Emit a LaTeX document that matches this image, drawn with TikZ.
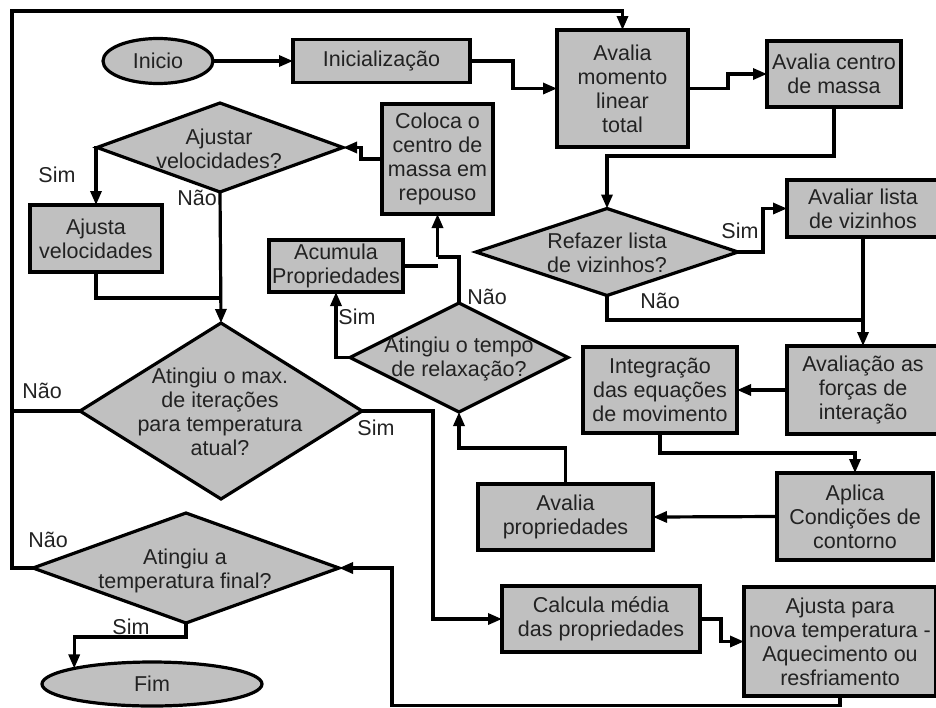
\documentclass[tikz,border=0pt]{standalone}
\usepackage{fontspec}
\setmainfont{Liberation Sans}
\usetikzlibrary{arrows.meta,shapes.geometric}
\definecolor{boxfill}{RGB}{192,192,192}
\definecolor{ink}{RGB}{34,34,34}
\begin{document}
\begin{tikzpicture}[x=1pt,y=-1pt,
  font=\fontsize{21.5}{24}\selectfont,
  base/.style={draw=black, fill=boxfill, line width=3.2pt, outer sep=0pt, inner sep=0pt, text=ink, align=center},
  proc/.style={base, rectangle},
  term/.style={base, ellipse},
  decision/.style={base, diamond},
  dtext/.style={text=ink, align=center, inner sep=0pt},
  lbl/.style={text=ink, inner sep=0pt},
  conn/.style={line width=3.2pt, draw=black},
  flow/.style={conn, -{Triangle[length=14pt,width=11pt]}}]

\useasboundingbox (0,0) rectangle (936,707);
\clip (0,0) rectangle (936,707);

% ---- nodes ----
\node[term, minimum width=110pt, minimum height=45pt] (inicio) at (158,61) {Inicio};
\node[proc, minimum width=177pt, minimum height=43pt] (inic) at (381.5,61) {Inicialização};
\node[proc, minimum width=131pt, minimum height=117pt] (momento) at (622.5,88.5) {Avalia\\momento\\linear\\total};
\node[proc, minimum width=134pt, minimum height=66pt] (centro) at (834,74) {Avalia centro\\de massa};
\node[decision, minimum width=262pt, minimum height=87pt] (refazer) at (607,252) {};
\node[dtext] (refazer-t) at (607,253) {Refazer lista\\de vizinhos?};
\node[proc, minimum width=152pt, minimum height=57pt] (vizinhos) at (863,208.5) {Avaliar lista\\de vizinhos};
\node[proc, minimum width=152pt, minimum height=88pt] (forcas) at (863,390) {Avaliação as\\forças de\\interação};
\node[proc, minimum width=154pt, minimum height=86pt] (integ) at (660,390) {Integração\\das equações\\de movimento};
\node[proc, minimum width=156pt, minimum height=87pt] (aplica) at (855,516.5) {Aplica\\Condições de\\contorno};
\node[proc, minimum width=175pt, minimum height=66pt] (avprop) at (565.5,517) {Avalia\\propriedades};
\node[decision, minimum width=218pt, minimum height=109pt] (tempo) at (459,357.5) {};
\node[dtext] (tempo-t) at (459,359) {Atingiu o tempo\\de relaxação?};
\node[proc, minimum width=134pt, minimum height=52pt] (acumula) at (336,266) {Acumula\\Propriedades};
\node[proc, minimum width=111pt, minimum height=110pt] (coloca) at (437.5,159) {Coloca o\\centro de\\massa em\\repouso};
\node[decision, minimum width=246pt, minimum height=89pt] (ajustar) at (220,147.5) {};
\node[dtext] (ajustar-t) at (219,149) {Ajustar\\velocidades?};
\node[proc, minimum width=132pt, minimum height=67pt] (ajvel) at (96,238.5) {Ajusta\\velocidades};
\node[decision, minimum width=282pt, minimum height=176pt] (maxit) at (221,411) {};
\node[dtext] (maxit-t) at (220,412) {Atingiu o max.\\de iterações\\para temperatura\\atual?};
\node[proc, minimum width=198pt, minimum height=66pt] (calcula) at (601,619) {Calcula média\\das propriedades};
\node[proc, minimum width=192pt, minimum height=109pt] (novat) at (840,641.5) {Ajusta para\\nova temperatura -\\Aquecimento ou\\resfriamento};
\node[decision, minimum width=306pt, minimum height=110pt] (tfinal) at (186,568) {};
\node[dtext] (tfinal-t) at (185,571) {Atingiu a\\temperatura final?};
\node[term, minimum width=220pt, minimum height=44pt] (fim) at (152,684) {Fim};

% ---- bend and junction points ----
\coordinate (loop) at (12,11);
\coordinate (jviz) at (863,320);
\coordinate (jrel) at (437.5,257);
\coordinate (jvel) at (220,298);
\coordinate (jret) at (392,705.5);

% ---- connectors ----
\draw[flow] (inicio) -- (inic);
\draw[flow] (inic.east) -- ++(43,0) |- (momento.west);
\draw[flow] (momento.east) -- ++(40,0) |- (centro.west);
\draw[flow] (centro.south) -- ++(0,49) -| (refazer.north);
\draw[flow] (refazer.east) -- ++(25,0) |- (vizinhos.west);
\draw[flow] (vizinhos.south) -- (forcas.north);
\draw[conn] (refazer.south) |- (jviz);
\draw[flow] (forcas.west) -- (integ.east);
\draw[flow] (integ.south) -- ++(0,20) -| (aplica.north);
\draw[flow] (aplica.west) -- (avprop.east);
\draw[flow] (avprop.north) -- ++(0,-36) -| (tempo.south);
\draw[flow] (tempo.west) -| (acumula.south);
\draw[conn] (tempo.north) |- (jrel);
\draw[conn] (acumula.east) -- (acumula.east -| jrel);
\draw[flow] (jrel) -- (coloca.south);
\draw[flow] (coloca.west) -- ++(-21,0) |- (ajustar.east);
\draw[flow] (ajustar.west) -| (ajvel.north);
\draw[flow] (ajustar.south) -- (maxit.north);
\draw[conn] (ajvel.south) |- (jvel);
\draw[conn] (maxit.west) -- (maxit.west -| loop);
\draw[flow] (tfinal.west) -| (loop) -| (momento.north);
\draw[flow] (maxit.east) -- ++(71,0) |- (calcula.west);
\draw[flow] (calcula.east) -- ++(21,0) |- (novat.west);
\draw[flow] (novat.south) |- (jret) |- (tfinal.east);
\draw[flow] (tfinal.south) -- ++(0,14) -| (fim.north west);

% ---- branch labels ----
\node[lbl] (l-ajs) at (57,175) {Sim};
\node[lbl] (l-ajn) at (197,198) {Não};
\node[lbl] (l-rfs) at (740,231) {Sim};
\node[lbl] (l-rfn) at (660,301) {Não};
\node[lbl] (l-ten) at (487,297) {Não};
\node[lbl] (l-tes) at (357,317) {Sim};
\node[lbl] (l-mxs) at (376,428) {Sim};
\node[lbl] (l-mxn) at (42,391) {Não};
\node[lbl] (l-tfn) at (48,540) {Não};
\node[lbl] (l-tfs) at (131,627) {Sim};
\end{tikzpicture}
\end{document}
